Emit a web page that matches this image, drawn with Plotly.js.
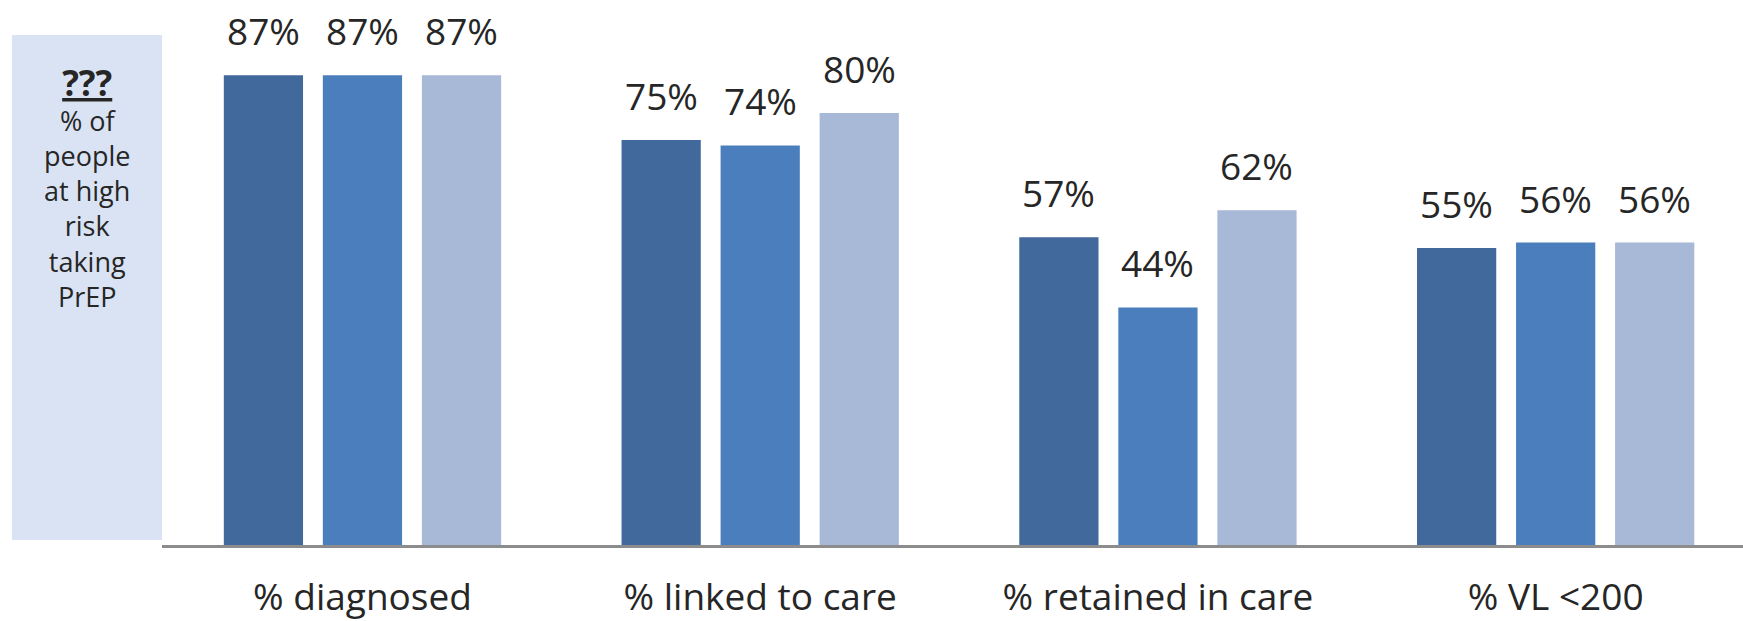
<!DOCTYPE html>
<html><head><meta charset="utf-8">
<script src="https://cdn.plot.ly/plotly-3.0.1.min.js"></script>
<style>html,body{margin:0;padding:0;background:#fff;overflow:hidden} #chart{width:1743px;height:621px;}</style>
</head><body><div id="chart"></div>
<script>
// ---- data ----
const categories = ['% diagnosed', '% linked to care', '% retained in care', '% VL <200'];
const series1 = [87, 75, 57, 55];
const series2 = [87, 74, 44, 56];
const series3 = [87, 80, 62, 56];
const seriesNames = ['Series 1', 'Series 2', 'Series 3'];
const sideTitle = '???';
const sideLines = ['% of', 'people', 'at high', 'risk', 'taking', 'PrEP'];

// ---- styles ----
const colors = ['#41699b', '#4a7ebd', '#a8b8d7'];
const FONT = 'Open Sans, Liberation Sans, sans-serif';
const TXT = '#262626';
const bargap = 0.253, bargroupgap = 0.2;

const allSeries = [series1, series2, series3];
const idx = categories.map((c, i) => i);

const traces = allSeries.map((vals, k) => ({
  type: 'bar', x: idx, y: vals, name: seriesNames[k],
  marker: {color: colors[k], line: {width: 0}},
  hoverinfo: 'skip'
}));

const slot = (1 - bargap) / allSeries.length;
const annotations = [];
allSeries.forEach((vals, k) => {
  vals.forEach((v, i) => {
    annotations.push({
      x: i + (k - (allSeries.length - 1) / 2) * slot, y: v, xref: 'x', yref: 'y',
      text: v + '%', showarrow: false, yanchor: 'bottom', xanchor: 'center', yshift: 17,
      font: {family: FONT, size: 37, color: TXT}
    });
  });
});

annotations.push({
  xref: 'paper', yref: 'paper', x: -0.0474, y: 0.903, xanchor: 'center', yanchor: 'top',
  showarrow: false, align: 'center',
  text: '<span style="font-size:35px"><b><u>' + sideTitle + '</u></b></span><br>' + sideLines.join('<br>'),
  font: {family: FONT, size: 27, color: TXT}
});

const layout = {
  width: 1743, height: 621,
  margin: {l: 162, r: 0, t: 5, b: 76, pad: 0},
  paper_bgcolor: '#ffffff', plot_bgcolor: '#ffffff',
  barmode: 'group', bargap: bargap, bargroupgap: bargroupgap,
  showlegend: false, hovermode: false,
  font: {family: FONT, color: TXT},
  xaxis: {
    range: [-0.504, 3.471], tickvals: idx, ticktext: categories,
    showgrid: false, zeroline: false, showline: true, linecolor: '#8c8c8c', linewidth: 2.5,
    ticks: '', ticklabelstandoff: 18, tickfont: {family: FONT, size: 37, color: TXT},
    fixedrange: true
  },
  yaxis: {range: [0, 100], visible: false, showgrid: false, zeroline: false, fixedrange: true},
  shapes: [{
    type: 'rect', xref: 'paper', yref: 'paper', x0: -0.0949, x1: 0, y0: 0.0093, y1: 0.9444,
    fillcolor: '#dae3f3', line: {width: 0}, layer: 'below'
  }],
  annotations: annotations
};

Plotly.newPlot('chart', traces, layout, {displayModeBar: false, staticPlot: true});
</script></body></html>
